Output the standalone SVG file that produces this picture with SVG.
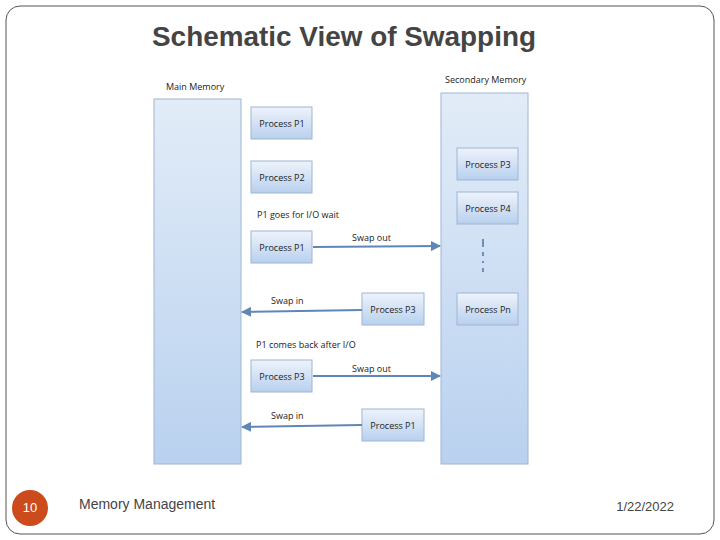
<svg xmlns="http://www.w3.org/2000/svg" width="720" height="540" viewBox="0 0 720 540">
<defs>
<linearGradient id="col" x1="0" y1="0" x2="0" y2="1"><stop offset="0" stop-color="#e2ecf8"/><stop offset="1" stop-color="#b9d1ef"/></linearGradient>
<linearGradient id="box" x1="0" y1="0" x2="0" y2="1"><stop offset="0" stop-color="#eef3fb"/><stop offset="1" stop-color="#b8d0ee"/></linearGradient>
<marker id="ah" viewBox="0 0 10 10" refX="9" refY="5" markerWidth="5" markerHeight="5" orient="auto"><path d="M0,0 L10,5 L0,10 z" fill="#5f86b4"/></marker>
<style>
.col{fill:url(#col);stroke:#9fb6d3;stroke-width:1}
.box{fill:url(#box);stroke:#9fb6d3;stroke-width:1}
.t{font-family:"Open Sans","Liberation Sans",sans-serif;font-size:9px;fill:#222}
.bt{font-family:"Open Sans","Liberation Sans",sans-serif;font-size:9px;fill:#222;text-anchor:middle}
.c{stroke:#5f86b4;stroke-width:2;fill:none;marker-end:url(#ah)}
</style>
</defs>
<rect width="720" height="540" fill="#fff"/>
<rect x="6" y="6" width="708" height="528" rx="14" fill="none" stroke="#555" stroke-width="1"/>
<text x="344" y="46" text-anchor="middle" font-family="'Liberation Sans',Arial,sans-serif" font-size="27" font-weight="bold" fill="#444" textLength="384" lengthAdjust="spacingAndGlyphs">Schematic View of Swapping</text>
<g id="main-memory"><text class="t" x="166" y="90">Main Memory</text><rect class="col" x="154" y="99" width="87" height="365"/></g>
<g id="secondary-memory"><text class="t" x="445" y="83">Secondary Memory</text><rect class="col" x="441" y="93" width="87" height="371"/></g>
<g id="mP1"><rect class="box" x="251" y="107" width="61" height="32"/><text class="bt" x="282" y="127">Process P1</text></g>
<g id="mP2"><rect class="box" x="251" y="161" width="61" height="32"/><text class="bt" x="282" y="181">Process P2</text></g>
<g id="mP1b"><rect class="box" x="251" y="231" width="61" height="32"/><text class="bt" x="282" y="251">Process P1</text></g>
<g id="mP3"><rect class="box" x="251" y="360" width="61" height="32"/><text class="bt" x="282" y="380">Process P3</text></g>
<g id="xP3"><rect class="box" x="362" y="293" width="62" height="32"/><text class="bt" x="393" y="313">Process P3</text></g>
<g id="xP1"><rect class="box" x="362" y="409" width="62" height="32"/><text class="bt" x="393" y="429">Process P1</text></g>
<g id="sP3"><rect class="box" x="457" y="148" width="61" height="32"/><text class="bt" x="488" y="168">Process P3</text></g>
<g id="sP4"><rect class="box" x="457" y="192" width="61" height="32"/><text class="bt" x="488" y="212">Process P4</text></g>
<g id="sPn"><rect class="box" x="457" y="293" width="61" height="32"/><text class="bt" x="488" y="313">Process Pn</text></g>
<g id="dots" stroke="#6f8fb8" stroke-width="2"><line x1="483" y1="239" x2="483" y2="247"/><line x1="483" y1="252" x2="483" y2="256"/><line x1="483" y1="261" x2="483" y2="263"/><line x1="483" y1="268" x2="483" y2="272"/></g>
<text class="t" x="257" y="218">P1 goes for I/O wait</text>
<text class="t" x="256" y="348">P1 comes back after I/O</text>
<g id="connectors">
<line class="c" x1="313" y1="247" x2="440" y2="246"/>
<line class="c" x1="362" y1="310" x2="242" y2="312"/>
<line class="c" x1="313" y1="376" x2="440" y2="376"/>
<line class="c" x1="362" y1="425" x2="242" y2="427"/>
<text class="t" x="352" y="241">Swap out</text>
<text class="t" x="271" y="304">Swap in</text>
<text class="t" x="352" y="372">Swap out</text>
<text class="t" x="271" y="419">Swap in</text>
</g>
<circle cx="30" cy="508" r="18" fill="#cc4b1c"/>
<text x="30" y="512" text-anchor="middle" font-family="'Liberation Sans',sans-serif" font-size="13" fill="#fff">10</text>
<text x="79" y="509" font-family="'Liberation Sans',sans-serif" font-size="14" fill="#444">Memory Management</text>
<text x="674" y="511" text-anchor="end" font-family="'Liberation Sans',sans-serif" font-size="13" fill="#444">1/22/2022</text>
</svg>
